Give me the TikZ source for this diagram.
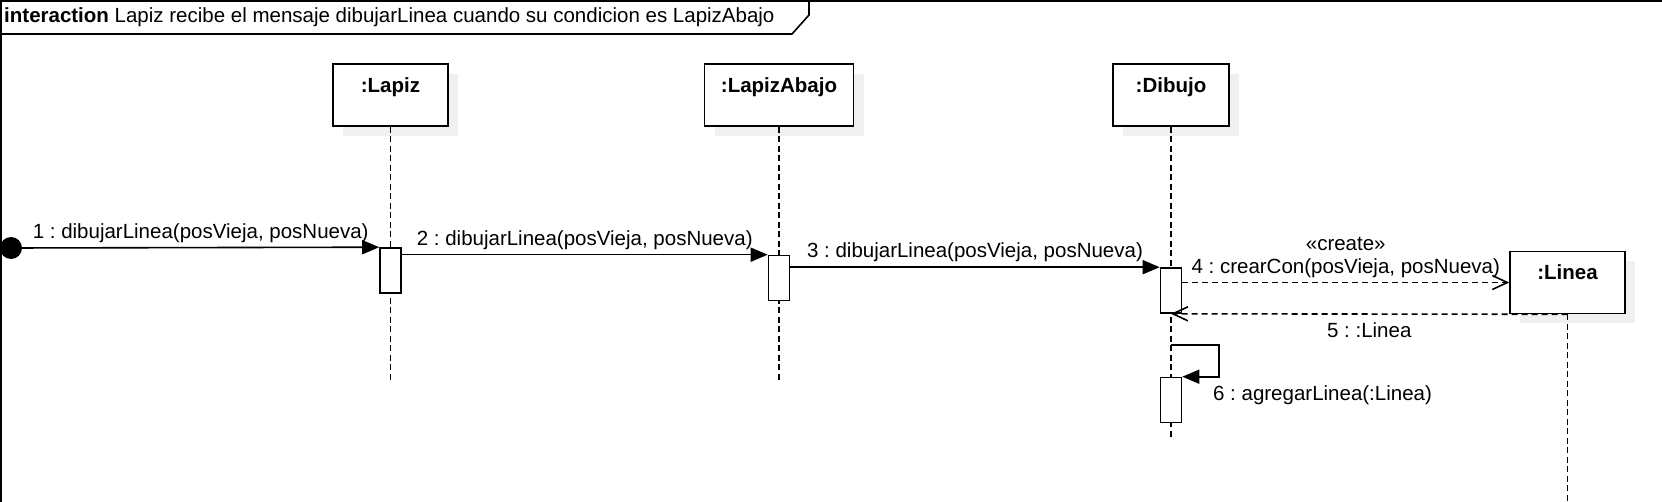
\documentclass[tikz,border=0pt]{standalone}
\usepackage{fontspec}
\setmainfont{Liberation Sans}
\frenchspacing
\usetikzlibrary{arrows.meta,shadows}

\tikzset{
  lifehead/.style={draw, line width=1.6pt, fill=white, minimum height=62pt,
    text height=14.7pt, text depth=20.1pt, inner ysep=13.6pt,
    font=\fontsize{20.5}{23}\selectfont\bfseries,
    drop shadow={shadow xshift=10pt, shadow yshift=-10pt, fill=black!6, opacity=1}},
  lifeline/.style={line width=1.6pt, dash pattern=on 6pt off 3.5pt},
  activation/.style={draw, line width=1.6pt, fill=white, minimum width=21pt,
    minimum height=45pt, inner sep=0pt},
  msg/.style={line width=1.6pt, -{Triangle[length=17pt,width=14pt]}},
  createmsg/.style={line width=1.6pt, dash pattern=on 6pt off 4pt,
    -{Straight Barb[length=15pt,width=14pt]}},
  replymsg/.style={createmsg},
  found/.style={circle, fill=black, minimum size=22pt, inner sep=0pt}
}

\begin{document}
\begin{tikzpicture}[x=1pt, y=-1pt, font=\fontsize{20.5}{23}\selectfont]
  \useasboundingbox (0,0) rectangle (1662,502);
  % frame
  \draw[line width=1.6pt] (1,502) -- (1,1) -- (1662,1);
  \draw[line width=1.6pt] (1,34) -- (792,34) -- (809,15) -- (809,1);
  \node[anchor=west, inner sep=2pt] (title) at (2,17.5)
    {\textbf{interaction} Lapiz recibe el mensaje dibujarLinea cuando su condicion es LapizAbajo};

  % lifelines
  \node[lifehead, minimum width=115pt] (lapiz) at (390.5,95) {:Lapiz};
  \node[lifehead, minimum width=149pt] (lapizabajo) at (779,95) {:LapizAbajo};
  \node[lifehead, minimum width=116pt] (dibujo) at (1171,95) {:Dibujo};
  \node[lifehead, minimum width=115pt] (linea) at (1567.5,282.5) {:Linea};

  \coordinate (lapizend) at (390.5,383);
  \coordinate (lapizabajoend) at (779,383);
  \coordinate (dibujoend) at (1171,439);
  \coordinate (lineaend) at (1567.5,502);
  \draw[lifeline] (lapiz) -- (lapizend);
  \draw[lifeline] (lapizabajo) -- (lapizabajoend);
  \draw[lifeline] (dibujo) -- (dibujoend);
  \draw[lifeline] (linea) -- (lineaend);

  % activations
  \node[activation] (act1) at (390.5,270.5) {};
  \node[activation] (act2) at (779,278) {};
  \node[activation] (act3) at (1171,290.5) {};
  \node[activation] (act4) at (1171,400) {};

  % messages
  \node[found] (start) at (11,248) {};
  \draw[msg] (start) -- (act1.north west)
    node[midway, above=1pt] {1 : dibujarLinea(posVieja, posNueva)};
  \draw[msg] (act1.east |- act2.north) -- (act2.north west)
    node[midway, above=1pt] {2 : dibujarLinea(posVieja, posNueva)};
  \draw[msg] (act2.east |- act3.north) -- (act3.north west)
    node[midway, above=1pt] {3 : dibujarLinea(posVieja, posNueva)};
  \draw[createmsg] (act3.east |- linea.west) -- (linea.west)
    node[midway, above=1pt, align=center] {«create»\\4 : crearCon(posVieja, posNueva)};
  \draw[replymsg] (linea.south) -- (act3.south)
    node[midway, below=4pt] {5 : :Linea};

  \coordinate (self6) at (1171,345);
  \draw[msg] (self6) -- ++(48,0) |- node[pos=0.5, anchor=north west, xshift=-10pt, yshift=-5pt]
    {6 : agregarLinea(:Linea)} (act4.north east);
\end{tikzpicture}
\end{document}
